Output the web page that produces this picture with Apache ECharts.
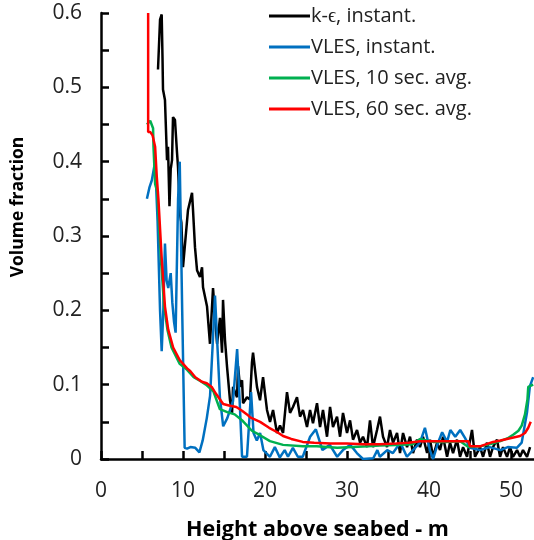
<!DOCTYPE html>
<html><head><meta charset="utf-8">
<script src="https://cdn.jsdelivr.net/npm/echarts@6/dist/echarts.min.js"></script>
<style>html,body{margin:0;padding:0;background:#fff}#c{width:534px;height:540px}</style>
</head><body><div id="c"></div>
<script>
const seriesNames = ['k-\u03F5, instant.', 'VLES, instant.', 'VLES, 10 sec. avg.', 'VLES, 60 sec. avg.'];
const xTicks = [0, 10, 20, 30, 40, 50];
const yTicks = [0, 0.1, 0.2, 0.3, 0.4, 0.5, 0.6];
const xTitle = 'Height above seabed - m';
const yTitle = 'Volume fraction';

const kEpsInstant = [[6.95,0.524],[7.2,0.591],[7.4,0.598],[7.5,0.54],[7.56,0.497],[7.8,0.483],[8.05,0.402],[8.17,0.42],[8.35,0.34],[8.5,0.39],[8.66,0.402],[8.78,0.46],[9.02,0.456],[9.27,0.412],[9.39,0.393],[9.63,0.33],[9.8,0.318],[10.0,0.258],[10.61,0.335],[11.1,0.358],[11.22,0.335],[11.46,0.285],[11.71,0.254],[12.07,0.245],[12.32,0.258],[12.44,0.231],[12.93,0.205],[13.29,0.155],[13.66,0.23],[14.15,0.155],[14.51,0.19],[14.76,0.143],[14.88,0.214],[15.12,0.16],[15.37,0.124],[15.73,0.079],[15.98,0.062],[16.1,0.097],[16.59,0.083],[16.71,0.125],[16.95,0.097],[17.2,0.106],[17.32,0.075],[17.8,0.083],[18.17,0.08],[18.41,0.13],[18.54,0.143],[19.02,0.097],[19.39,0.079],[19.76,0.11],[20.24,0.066],[20.61,0.05],[20.98,0.066],[21.46,0.035],[21.83,0.045],[22.2,0.035],[22.68,0.09],[23.05,0.062],[23.41,0.07],[23.9,0.083],[24.27,0.057],[24.63,0.066],[25.12,0.043],[25.49,0.066],[25.85,0.048],[26.34,0.075],[26.71,0.043],[27.07,0.066],[27.56,0.03],[27.93,0.07],[28.29,0.043],[28.78,0.057],[29.15,0.03],[29.51,0.062],[30.0,0.035],[30.37,0.052],[30.73,0.026],[31.22,0.039],[31.59,0.022],[31.95,0.03],[32.44,0.016],[32.8,0.052],[33.17,0.016],[33.66,0.039],[34.02,0.057],[34.39,0.03],[34.88,0.016],[35.24,0.039],[35.61,0.022],[36.1,0.035],[36.46,0.008],[36.83,0.035],[37.32,0.016],[37.68,0.03],[38.05,0.008],[38.54,0.026],[38.9,0.016],[39.27,0.03],[39.76,0.008],[40.12,0.026],[40.49,0.003],[40.98,0.022],[41.34,0.012],[41.71,0.03],[42.2,0.003],[42.56,0.022],[42.93,0.008],[43.41,0.026],[43.78,0.003],[44.15,0.016],[44.63,0.003],[45.24,0.039],[45.61,0.003],[46.22,0.016],[46.59,0.003],[47.07,0.022],[47.44,0.003],[47.8,0.016],[48.29,0.026],[48.66,0.003],[49.02,0.016],[49.51,0.003],[49.88,0.016],[50.24,0.003],[50.73,0.012],[51.1,0.003],[51.46,0.012],[51.95,0.003],[52.32,0.016]];

const vlesInstant = [[5.6,0.35],[5.9,0.365],[6.2,0.375],[6.6,0.40],[6.9,0.32],[7.2,0.20],[7.4,0.145],[7.6,0.2],[7.8,0.29],[8.0,0.24],[8.2,0.23],[8.5,0.25],[8.7,0.21],[8.9,0.185],[9.1,0.17],[9.4,0.35],[9.6,0.40],[9.9,0.2],[10.2,0.015],[10.5,0.014],[10.9,0.016],[11.5,0.015],[12.0,0.009],[12.4,0.025],[12.9,0.055],[13.3,0.085],[13.6,0.15],[13.9,0.22],[14.5,0.083],[14.9,0.044],[15.4,0.055],[16.1,0.078],[16.6,0.148],[16.9,0.08],[17.2,0.003],[17.8,0.003],[18.3,0.09],[18.6,0.035],[19.0,0.025],[19.4,0.035],[19.8,0.012],[20.6,0.003],[21.2,0.016],[21.8,0.002],[22.4,0.012],[22.8,0.003],[23.4,0.015],[24.0,0.003],[24.6,0.003],[25.5,0.03],[26.2,0.04],[27.0,0.012],[27.9,0.019],[28.8,0.003],[29.5,0.012],[30.4,0.019],[31.2,0.008],[31.95,0.0],[33.2,0.001],[33.7,0.012],[34.0,0.003],[34.9,0.012],[35.6,0.008],[36.5,0.022],[37.3,0.003],[38.05,0.012],[38.9,0.022],[39.5,0.042],[40.1,0.012],[40.5,0.0],[41.1,0.022],[41.6,0.036],[42.2,0.023],[42.6,0.039],[43.2,0.03],[43.8,0.039],[44.4,0.028],[45.0,0.015],[46.2,0.012],[47.4,0.016],[48.7,0.012],[49.6,0.016],[50.7,0.015],[51.3,0.022],[51.95,0.063],[52.3,0.098],[52.7,0.11]];

const vles10s = [[5.6,0.45],[6.0,0.455],[6.35,0.445],[6.4,0.42],[6.6,0.37],[6.85,0.36],[7.3,0.27],[7.7,0.205],[8.1,0.174],[8.6,0.15],[9.6,0.128],[10.5,0.12],[11.3,0.11],[12.1,0.105],[12.8,0.1],[13.7,0.091],[14.5,0.067],[15.4,0.063],[16.3,0.06],[17.3,0.051],[18.4,0.038],[19.4,0.032],[20.6,0.024],[22.2,0.019],[24.6,0.017],[26.3,0.017],[28.8,0.015],[30.7,0.016],[32.5,0.017],[34,0.018],[36,0.019],[38,0.02],[38.9,0.027],[40.5,0.023],[42,0.023],[43.8,0.024],[44.8,0.016],[46.2,0.017],[47.5,0.02],[48.7,0.024],[49.6,0.028],[50.3,0.033],[50.9,0.038],[51.3,0.045],[51.7,0.06],[52.0,0.08],[52.1,0.097],[52.7,0.1]];

const vles60s = [[5.75,0.6],[5.75,0.44],[6.0,0.44],[6.3,0.435],[6.6,0.42],[6.8,0.38],[7.0,0.35],[7.4,0.27],[7.8,0.205],[8.2,0.174],[8.8,0.15],[9.6,0.133],[10.5,0.122],[10.9,0.118],[11.5,0.11],[12.3,0.104],[12.9,0.102],[13.5,0.097],[14.0,0.088],[14.9,0.074],[15.6,0.072],[16.5,0.07],[17.2,0.065],[17.8,0.06],[18.2,0.056],[19.4,0.05],[20.5,0.042],[21.5,0.036],[22.2,0.031],[23.2,0.027],[24.6,0.023],[26,0.022],[28,0.021],[30,0.021],[32,0.02],[34,0.02],[36,0.021],[37.5,0.022],[38.9,0.024],[40.5,0.024],[42,0.024],[43.5,0.024],[44.8,0.024],[45.0,0.017],[46.2,0.017],[47,0.02],[47.8,0.023],[48.7,0.025],[49.5,0.027],[50.3,0.029],[51.1,0.031],[51.7,0.035],[52.1,0.042],[52.4,0.05]];

const colors = ['#000000', '#0070C0', '#00B050', '#FF0000'];
const allData = [kEpsInstant, vlesInstant, vles10s, vles60s];
const FONT = 'Open Sans';

const chart = echarts.init(document.getElementById('c'), null, {renderer: 'canvas'});
chart.setOption({
  animation: false,
  backgroundColor: '#ffffff',
  grid: {left: 101, right: 0, top: 13, bottom: 81, containLabel: false, outerBoundsMode: 'none'},
  legend: {
    orient: 'vertical', left: 269, top: 4, padding: 0,
    itemWidth: 41, itemHeight: 3, itemGap: 7, icon: 'rect',
    data: seriesNames,
    textStyle: {fontFamily: FONT, fontSize: 20, color: '#222', lineHeight: 24, padding: [0,0,0,-4]}
  },
  graphic: [{
    type: 'text', x: 18, y: 207, rotation: Math.PI / 2,
    style: {text: yTitle, font: 'bold 17.5px "Open Sans"', fill: '#000', align: 'center', verticalAlign: 'middle'}
  }],
  xAxis: {
    type: 'value', min: 0, max: 52.8, interval: 5,
    name: xTitle, nameLocation: 'middle', nameGap: 60,
    nameTextStyle: {fontFamily: FONT, fontSize: 21.5, fontWeight: 'bold', color: '#000'},
    axisLine: {show: true, onZero: false, lineStyle: {color: '#000', width: 2.5}},
    axisTick: {show: true, inside: true, length: 8, lineStyle: {color: '#000', width: 2.5}},
    axisLabel: {fontFamily: FONT, fontSize: 21, color: '#222', margin: 22, showMaxLabel: false,
      formatter: v => (xTicks.indexOf(v) >= 0 ? String(v) : '')},
    splitLine: {show: false}
  },
  yAxis: {
    type: 'value', min: 0, max: 0.6, interval: 0.05,
    axisLine: {show: true, lineStyle: {color: '#000', width: 2.5}},
    axisTick: {show: true, inside: true, length: 8, lineStyle: {color: '#000', width: 2.5}},
    axisLabel: {fontFamily: FONT, fontSize: 21, color: '#222', margin: 19,
      formatter: v => { const r = Math.round(v*100)/100; return yTicks.some(t => Math.abs(t - r) < 1e-9) ? (r === 0 ? '0' : r.toFixed(1)) : ''; }},
    splitLine: {show: false}
  },
  series: allData.map((d, i) => ({
    name: seriesNames[i], type: 'line', data: d, showSymbol: false, symbol: 'none',
    color: colors[i], lineStyle: {color: colors[i], width: 2.5}, clip: true, z: 2 + i
  }))
});
</script></body></html>
